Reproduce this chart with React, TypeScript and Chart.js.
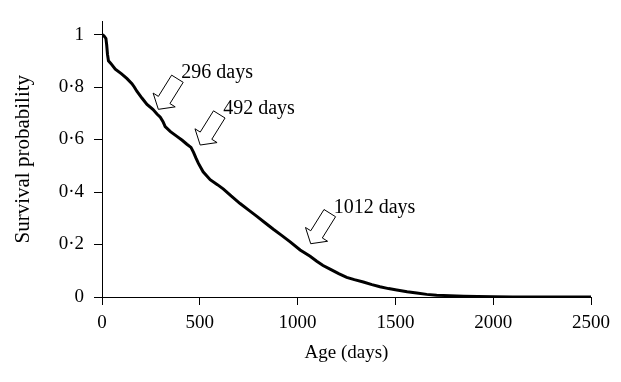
import React, { useEffect, useRef } from "react";
import { Chart, registerables } from "chart.js";

Chart.register(...registerables);

// Survival curve (age in days, survival probability)
const ageDays = [
  0, 10, 20, 24, 28, 33, 45, 68, 100, 128, 153, 165, 179, 205, 230, 260, 281, 298, 312, 323,
  350, 383, 410, 434, 455, 468, 480, 493, 517, 553, 590, 621, 660, 706, 750, 792, 835, 876,
  920, 962, 1013, 1064, 1098, 1130, 1166, 1210, 1251, 1290, 1336, 1380, 1421, 1465, 1507,
  1560, 1609, 1660, 1711, 1779, 1850, 1920, 2000, 2100, 2300, 2500,
];
const survival = [
  1.0, 0.995, 0.985, 0.96, 0.925, 0.9, 0.89, 0.868, 0.85, 0.832, 0.813, 0.8, 0.783, 0.757,
  0.734, 0.715, 0.697, 0.685, 0.668, 0.649, 0.63, 0.612, 0.597, 0.582, 0.57, 0.551, 0.53,
  0.509, 0.477, 0.447, 0.428, 0.411, 0.385, 0.356, 0.331, 0.307, 0.282, 0.258, 0.234, 0.21,
  0.179, 0.155, 0.136, 0.12, 0.106, 0.089, 0.075, 0.066, 0.057, 0.047, 0.039, 0.032, 0.027,
  0.02, 0.015, 0.01, 0.007, 0.005, 0.003, 0.002, 0.001, 0, 0, 0,
];

// Annotation arrows: label text and arrow tip position (data coordinates)
const arrowLabels = ["296 days", "492 days", "1012 days"];
const arrowTipDay = [288, 502, 1067];
const arrowTipValue = [0.715, 0.579, 0.203];

const xTicks = [0, 500, 1000, 1500, 2000, 2500];
const yTicks = [0, 0.2, 0.4, 0.6, 0.8, 1];

const FONT = "'Liberation Serif', 'Times New Roman', serif";

const arrowPlugin = {
  id: "arrowPlugin",
  afterDatasetsDraw(chart: any) {
    const { ctx, scales } = chart;
    const xs = scales.x;
    const ys = scales.y;
    const d = { x: 0.53, y: -0.85 };
    const n = { x: -d.y, y: d.x };
    const headLen = 11;
    const headHalf = 13;
    const shaftHalf = 6.8;
    const total = 36;
    ctx.save();
    arrowLabels.forEach((label, i) => {
      const tx = xs.getPixelForValue(arrowTipDay[i]);
      const ty = ys.getPixelForValue(arrowTipValue[i]);
      const pt = (u: number, v: number) => [tx + u * d.x + v * n.x, ty + u * d.y + v * n.y];
      const pts = [
        pt(0, 0),
        pt(headLen, headHalf),
        pt(headLen, shaftHalf),
        pt(total, shaftHalf),
        pt(total, -shaftHalf),
        pt(headLen, -shaftHalf),
        pt(headLen, -headHalf),
      ];
      ctx.beginPath();
      ctx.moveTo(pts[0][0], pts[0][1]);
      for (let k = 1; k < pts.length; k++) ctx.lineTo(pts[k][0], pts[k][1]);
      ctx.closePath();
      ctx.fillStyle = "#ffffff";
      ctx.fill();
      ctx.strokeStyle = "#000000";
      ctx.lineWidth = 1;
      ctx.stroke();
      ctx.fillStyle = "#000000";
      ctx.font = `20px ${FONT}`;
      ctx.textAlign = "left";
      ctx.textBaseline = "alphabetic";
      ctx.fillText(label, tx + 23, ty - 31);
    });
    ctx.restore();
  },
};

export default function App() {
  const canvasRef = useRef<HTMLCanvasElement | null>(null);

  useEffect(() => {
    const canvas = canvasRef.current;
    if (!canvas) return;
    const chart = new Chart(canvas, {
      type: "scatter",
      data: {
        datasets: [
          {
            data: ageDays.map((d, i) => ({ x: d, y: survival[i] })),
            showLine: true,
            borderColor: "#000000",
            borderWidth: 3,
            pointRadius: 0,
            tension: 0,
            fill: false,
          },
        ],
      },
      options: {
        animation: false,
        responsive: false,
        maintainAspectRatio: false,
        layout: { padding: { top: 10, right: 30, left: 0, bottom: 0 } },
        plugins: {
          legend: { display: false },
          tooltip: { enabled: false },
        },
        scales: {
          x: {
            type: "linear",
            min: 0,
            max: 2500,
            afterBuildTicks: (scale: any) => {
              scale.ticks = xTicks.map((v) => ({ value: v }));
            },
            afterFit: (scale: any) => {
              scale.height = 85;
            },
            ticks: {
              color: "#000000",
              font: { family: FONT, size: 19 },
              padding: 7,
              maxRotation: 0,
              callback: (v: any) => String(v),
            },
            grid: {
              display: true,
              drawOnChartArea: false,
              drawTicks: true,
              tickLength: 8,
              tickColor: "#000000",
              tickWidth: 1,
            },
            border: { display: true, color: "#000000", width: 1 },
            title: {
              display: true,
              text: "Age (days)",
              color: "#000000",
              font: { family: FONT, size: 19, weight: "normal" },
              padding: { top: 0, bottom: 18 },
            },
          },
          y: {
            type: "linear",
            min: 0,
            max: 1.05,
            afterBuildTicks: (scale: any) => {
              scale.ticks = yTicks.map((v) => ({ value: v }));
            },
            afterFit: (scale: any) => {
              scale.width = 102;
            },
            ticks: {
              color: "#000000",
              font: { family: FONT, size: 19 },
              padding: 10,
              callback: (v: any) => {
                const num = Number(v);
                if (num === 0) return "0";
                if (num === 1) return "1";
                return num.toFixed(1).replace(".", "\u00B7");
              },
            },
            grid: {
              display: true,
              drawOnChartArea: false,
              drawTicks: true,
              tickLength: 8,
              tickColor: "#000000",
              tickWidth: 1,
            },
            border: { display: true, color: "#000000", width: 1 },
            title: {
              display: true,
              text: "Survival probability",
              color: "#000000",
              font: { family: FONT, size: 21, weight: "normal" },
              padding: { top: 11, bottom: 0 },
            },
          },
        },
      },
      plugins: [arrowPlugin],
    } as any);
    return () => chart.destroy();
  }, []);

  return (
    <div style={{ position: "fixed", left: 0, top: 0, width: 621, height: 382, background: "#ffffff" }}>
      <canvas ref={canvasRef} width={621} height={382} style={{ width: 621, height: 382, display: "block" }} />
    </div>
  );
}
